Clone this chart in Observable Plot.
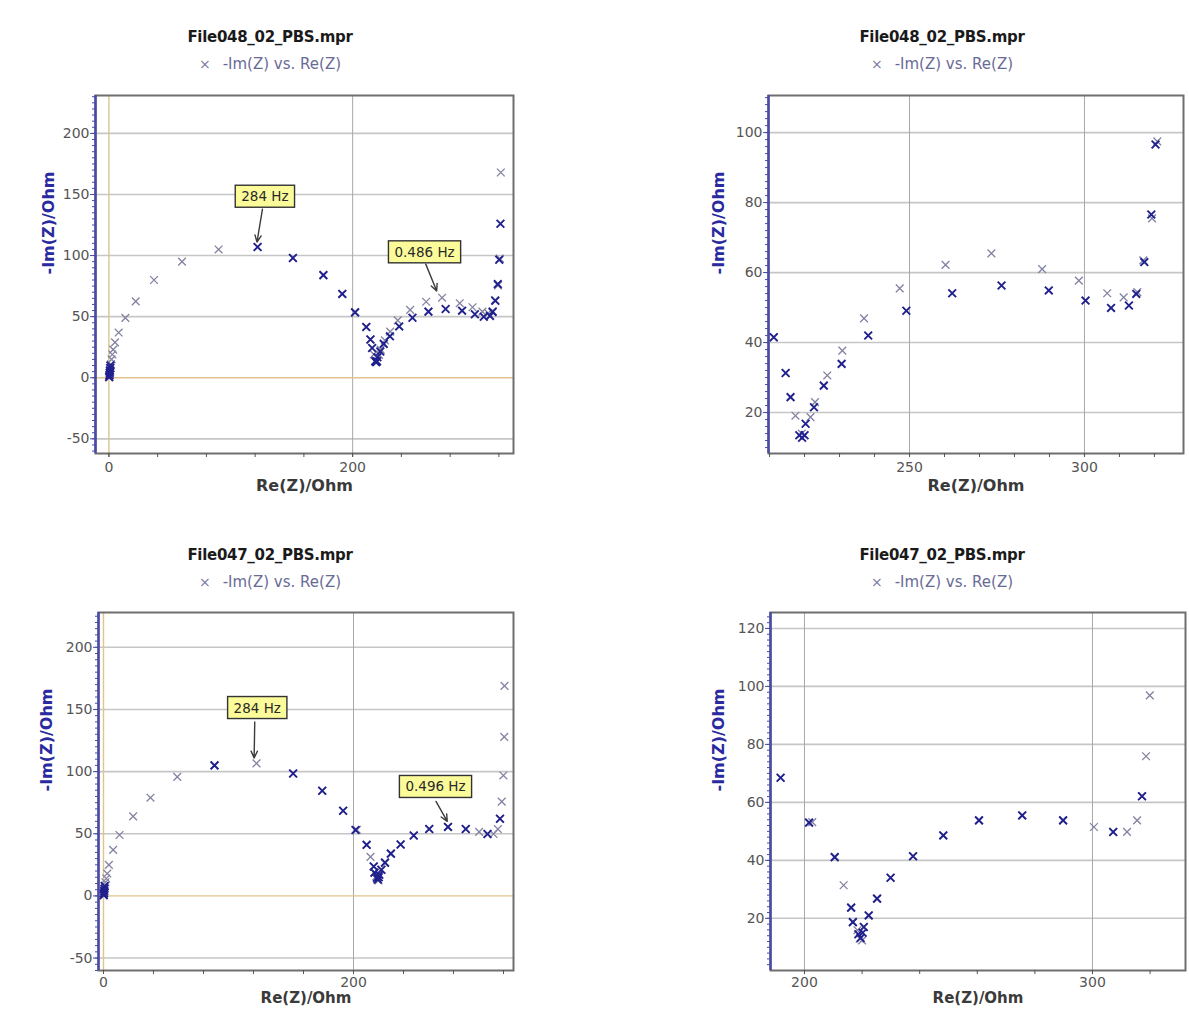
<!DOCTYPE html>
<html><head><meta charset="utf-8">
<script src="https://cdn.jsdelivr.net/npm/d3@7"></script>
<script src="https://cdn.jsdelivr.net/npm/@observablehq/plot@0.6"></script>
<style>
body{margin:0;background:#fff;}
#root{position:relative;width:1189px;height:1012px;overflow:hidden;background:#fff;font-family:"DejaVu Sans",sans-serif;}
.title{position:absolute;transform:translate(-50%,-50%);font-weight:bold;font-size:15px;color:#1a1a1a;white-space:nowrap;letter-spacing:-0.3px;}
.legend{position:absolute;transform:translate(-50%,-50%);font-size:15px;color:#6a6a96;white-space:nowrap;}
.legend .sym{color:#7a7aa0;margin-right:12px;font-size:14px;}
.chart{position:absolute;}
</style></head><body><div id="root"></div>
<script>
// ---------- texts ----------
const xLabel = "Re(Z)/Ohm";
const yLabel = "-Im(Z)/Ohm";
const legendLabel = "-Im(Z) vs. Re(Z)";
const file048 = "File048_02_PBS.mpr";
const file047 = "File047_02_PBS.mpr";

// ---------- data: [Re(Z), -Im(Z)] in Ohm ----------
const sweep048a = [[0.5,1],[1,3],[1.2,5],[1.5,8],[1.8,11],[2.2,15],[2.8,19],[3.5,23],[5,29],[8,37],[13.5,49],[22,62.5],[37,80],[60,95],[90,105],[122,107],[151,98],[176,84],[191.5,68.6],[202,53.5],[211.2,41.5],[214.6,31.3],[217.4,19.1],[219.2,14],[221.7,18.7],[223,23],[226.5,30.6],[230.8,37.7],[237,46.9],[247.2,55.5],[260.3,62.2],[273.4,65.5],[287.9,61],[298.4,57.7],[306.5,54.1],[311.2,52.9],[315.1,54.4],[316.8,63.5],[319.3,75.5],[320.8,97.5],[321.6,168]];
const sweep048b = [[0.2,0.5],[0.4,2],[0.6,4],[0.8,6],[1,8],[1.2,10],[122,107],[151,98],[176,84],[191.5,68.6],[202,53.5],[211.2,41.5],[214.6,31.3],[216,24.4],[218.5,13.5],[219.3,12.8],[220,13.5],[220.3,16.8],[222.7,21.5],[225.5,27.7],[230.6,33.9],[238.2,42],[249.1,49.1],[262.2,54.1],[276.3,56.3],[289.8,54.9],[300.3,52],[307.6,49.9],[312.7,50.6],[314.8,53.9],[317.1,63],[319.1,76.6],[320.3,96.6],[321.3,126]];
const sweep047a = [[0.2,1],[0.4,3],[0.6,5],[0.9,8],[1.5,11],[2.2,14],[3,18],[4.3,25],[7.7,37],[12.8,49],[23.7,64],[37.6,79],[59,95.8],[88.8,105],[122.4,106.6],[151.7,98.5],[175,84.6],[191.7,68.5],[202.7,53.2],[210.5,41.1],[213.6,31.4],[216.2,23.7],[216.8,18.7],[218.4,15.9],[219.2,13],[220,12.4],[220.6,17],[222.3,21],[225.2,26.8],[229.9,34],[237.7,41.4],[248.2,48.6],[260.6,53.8],[275.6,55.5],[289.8,53.8],[300.5,51.5],[307.2,49.8],[312,49.8],[315.5,53.8],[317.2,62.1],[318.6,75.9],[319.9,96.9],[320.6,128],[320.8,169]];
const sweep047b = [[0.2,0.5],[0.4,2],[0.6,4],[0.8,6],[1,8],[88.8,105],[151.7,98.5],[175,84.6],[191.7,68.5],[201.6,53],[210.5,41.1],[216.2,23.7],[216.8,18.7],[218.7,14.5],[219.5,13.2],[220.2,15],[220.6,17],[222.3,21],[225.2,26.8],[229.9,34],[237.7,41.4],[248.2,48.6],[260.6,53.8],[275.6,55.5],[289.8,53.8],[307.2,49.8],[317.2,62.1]];

// frequency annotations (label centre and arrow, in data units)
const notes048 = [
  {label: "284 Hz", lx: 128, ly: 148, x1: 126, y1: 138, x2: 121.5, y2: 111},
  {label: "0.486 Hz", lx: 259, ly: 102.5, x1: 260, y1: 93, x2: 269, y2: 71}
];
const notes047 = [
  {label: "284 Hz", lx: 123, ly: 151, x1: 121, y1: 140, x2: 120.5, y2: 111},
  {label: "0.496 Hz", lx: 265.6, ly: 87.5, x1: 266, y1: 76, x2: 275, y2: 60}
];

// axes: domains and ticks
const xDomainFull048 = [-11, 332], yDomainFull048 = [-62, 231];
const xDomainZoom048 = [209.7, 328.3], yDomainZoom048 = [8.3, 110.6];
const xDomainFull047 = [-4, 328], yDomainFull047 = [-60, 228];
const xDomainZoom047 = [188.2, 332.3], yDomainZoom047 = [2, 125.5];
const xTicksFull = [0, 200], yTicksFull = [-50, 0, 50, 100, 150, 200];
const xTicksZoom048 = [250, 300], yTicksZoom048 = [20, 40, 60, 80, 100];
const xTicksZoom047 = [200, 300], yTicksZoom047 = [20, 40, 60, 80, 100, 120];

// ---------- layout ----------
const panels = [
  {file: file048, a: sweep048a, b: sweep048b, notes: notes048, xd: xDomainFull048, yd: yDomainFull048, xt: xTicksFull, yt: yTicksFull, xMinor: d3.range(0, 321, 40), yMinor: d3.range(-60, 231, 5),
   left: 0, top: 80, width: 594, height: 430, ml: 95, mr: 81, mt: 15, mb: 57, titleX: 270, titleY: 37, legendY: 64, ylabDx: -47, xlabDy: 37, tickPad: 5, xlabSize: 16},
  {file: file048, a: sweep048a, b: sweep048b, notes: [], xd: xDomainZoom048, yd: yDomainZoom048, xt: xTicksZoom048, yt: yTicksZoom048, xMinor: d3.range(210, 321, 10), yMinor: d3.range(10, 111, 2),
   left: 594, top: 80, width: 595, height: 430, ml: 174, mr: 6, mt: 15, mb: 57, titleX: 942, titleY: 37, legendY: 64, ylabDx: -50, xlabDy: 37, tickPad: 5, xlabSize: 16},
  {file: file047, a: sweep047a, b: sweep047b, notes: notes047, xd: xDomainFull047, yd: yDomainFull047, xt: xTicksFull, yt: yTicksFull, xMinor: d3.range(0, 321, 40), yMinor: d3.range(-60, 228, 5),
   left: 0, top: 600, width: 594, height: 412, ml: 98, mr: 81, mt: 12, mb: 42, titleX: 270, titleY: 555, legendY: 582, ylabDx: -52, xlabDy: 32, tickPad: 3, xlabSize: 15},
  {file: file047, a: sweep047a, b: sweep047b, notes: [], xd: xDomainZoom047, yd: yDomainZoom047, xt: xTicksZoom047, yt: yTicksZoom047, xMinor: d3.range(200, 321, 20), yMinor: d3.range(4, 125, 2),
   left: 594, top: 600, width: 595, height: 412, ml: 176, mr: 4, mt: 12, mb: 42, titleX: 942, titleY: 555, legendY: 582, ylabDx: -52, xlabDy: 32, tickPad: 3, xlabSize: 15}
];

const root = document.getElementById("root");
const axisBlue = "#4a4aa8";
const toObj = arr => arr.map(([x, y]) => ({x, y}));

for (const p of panels) {
  const t = document.createElement("div");
  t.className = "title"; t.style.left = p.titleX + "px"; t.style.top = p.titleY + "px";
  t.textContent = p.file; root.appendChild(t);
  const l = document.createElement("div");
  l.className = "legend"; l.style.left = p.titleX + "px"; l.style.top = p.legendY + "px";
  l.innerHTML = '<span class="sym">\u00d7</span>' + legendLabel; root.appendChild(l);

  const [x0, x1] = p.xd, [y0, y1] = p.yd;
  const inX = v => v >= x0 && v <= x1, inY = v => v >= y0 && v <= y1;
  const svg = Plot.plot({
    width: p.width, height: p.height,
    marginLeft: p.ml, marginRight: p.mr, marginTop: p.mt, marginBottom: p.mb,
    x: {domain: p.xd, label: null},
    y: {domain: p.yd, label: null},
    style: {fontFamily: "DejaVu Sans, sans-serif", fontSize: "14px", background: "transparent", overflow: "visible"},
    marks: [
      Plot.gridY(p.yt.filter(v => v !== 0), {stroke: "#c6c6c6", strokeOpacity: 1, strokeWidth: 1.6}),
      Plot.gridX(p.xt.filter(v => v !== 0), {stroke: "#a8a8a8", strokeOpacity: 1, strokeWidth: 1}),
      Plot.ruleY([0].filter(inY), {stroke: "#e0c48c", strokeWidth: 1.4}),
      Plot.ruleX([0].filter(inX), {stroke: "#e0c48c", strokeWidth: 1.4}),
      Plot.frame({stroke: "#6e6e6e", strokeWidth: 2}),
      Plot.ruleX([x0], {stroke: axisBlue, strokeWidth: 2.5}),
      Plot.axisY(p.yMinor, {tickSize: 3, tickFormat: () => "", stroke: axisBlue, label: null}),
      Plot.axisY(p.yt, {tickSize: 5, tickPadding: 1, tickFormat: d => String(d), stroke: axisBlue, color: "#555", fill: "#555", fontSize: 14, label: null}),
      Plot.axisX(p.xMinor, {tickSize: 4, tickFormat: () => "", stroke: "#555", label: null}),
      Plot.axisX(p.xt, {tickSize: 4, tickPadding: p.tickPad, tickFormat: d => String(d), stroke: "#555", color: "#555", fill: "#555", fontSize: 14, label: null}),
      Plot.text([yLabel], {frameAnchor: "left", text: d => d, rotate: -90, dx: p.ylabDx, fill: "#2a2aa0", fontWeight: "bold", fontSize: 16}),
      Plot.text([xLabel], {frameAnchor: "bottom", text: d => d, dy: p.xlabDy, fill: "#3a3a3a", fontWeight: "bold", fontSize: p.xlabSize}),
      Plot.dot(toObj(p.a), {x: "x", y: "y", symbol: "times", r: 3.6, stroke: "#8282a2", strokeWidth: 1.3, clip: true}),
      Plot.dot(toObj(p.b), {x: "x", y: "y", symbol: "times", r: 3.6, stroke: "#20208e", strokeWidth: 1.9, clip: true}),
      Plot.arrow(p.notes, {x1: "x1", y1: "y1", x2: "x2", y2: "y2", stroke: "#3c3c3c", strokeWidth: 1.4, headLength: 8, headAngle: 50}),
      Plot.text(p.notes, {x: "lx", y: "ly", text: "label", fontSize: 13.5, fill: "#2a2a2a"})
    ]
  });
  const wrap = document.createElement("div");
  wrap.className = "chart"; wrap.style.left = p.left + "px"; wrap.style.top = p.top + "px";
  wrap.appendChild(svg); root.appendChild(wrap);
  const labels = new Set(p.notes.map(n => n.label));
  svg.querySelectorAll("text").forEach(tx => {
    if (!labels.has(tx.textContent)) return;
    const bb = tx.getBBox();
    const r = document.createElementNS("http://www.w3.org/2000/svg", "rect");
    r.setAttribute("x", bb.x - 6); r.setAttribute("y", bb.y - 3);
    r.setAttribute("width", bb.width + 12); r.setAttribute("height", bb.height + 6);
    r.setAttribute("fill", "#fbfb9a"); r.setAttribute("stroke", "#333"); r.setAttribute("stroke-width", "1.4");
    if (tx.getAttribute("transform")) r.setAttribute("transform", tx.getAttribute("transform"));
    tx.parentNode.insertBefore(r, tx);
  });
}
</script></body></html>
